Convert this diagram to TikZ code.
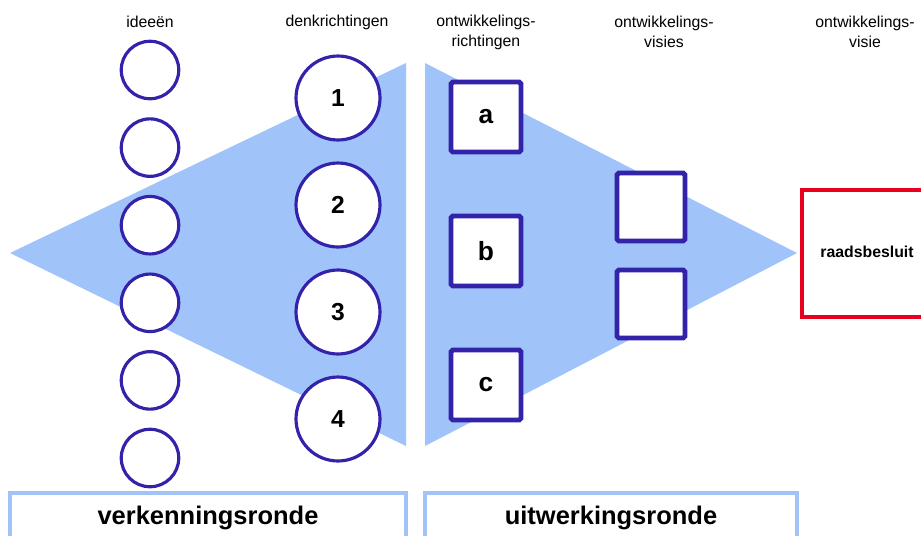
\documentclass[tikz,border=0pt]{standalone}
\usepackage{fontspec}
\setmainfont{Liberation Sans}
\definecolor{ringblue}{RGB}{51,34,170}
\definecolor{funnel}{RGB}{160,196,250}
\definecolor{besluitred}{RGB}{232,0,28}
\begin{document}
\begin{tikzpicture}[x=0.02cm,y=-0.02cm,
  kop/.style={align=center,font=\fontsize{9}{11.3}\selectfont},
  idee/.style={circle,draw=ringblue,line width=1.8pt,fill=white,minimum size=1.15cm,inner sep=0pt},
  denk/.style={circle,draw=ringblue,line width=1.8pt,fill=white,minimum size=1.68cm,inner sep=0pt,font=\fontsize{14}{14}\selectfont\bfseries},
  vak/.style={draw=ringblue,line width=2.8pt,rounded corners=1pt,fill=white,minimum size=1.4cm,inner sep=0pt,font=\fontsize{15}{15}\selectfont\bfseries},
  ronde/.style={font=\fontsize{14.5}{14.5}\selectfont\bfseries}]
\clip (0,0) rectangle (921,535);
% trechters
\fill[funnel] (10,253) -- (406,63) -- (406,446) -- cycle;
\fill[funnel] (425,63) -- (797,253) -- (425,446) -- cycle;

% koppen
\node[kop] (hIdee) at (150,22) {ideeën};
\node[kop] (hDenk) at (337,22) {denkrichtingen};
\node[kop] (hRicht) at (486,32) {ontwikkelings-\\richtingen};
\node[kop] (hVisies) at (664,32) {ontwikkelings-\\visies};
\node[kop] (hVisie) at (865,32) {ontwikkelings-\\visie};

% ideeen en denkrichtingen
\foreach \i in {0,...,5}
  \node[idee] (idee\i) at (150,{70+77.6*\i}) {};
\foreach \n in {1,...,4}
  \node[denk] (denk\n) at (338,{98+107*(\n-1)}) {\n};

% ontwikkelingsrichtingen en -visies
\node[vak] (richtA) at (486,117) {a};
\node[vak] (richtB) at (486,251) {b};
\node[vak] (richtC) at (486,385) {c};
\node[vak,minimum size=1.36cm] (visie1) at (651,207) {};
\node[vak,minimum size=1.36cm] (visie2) at (651,304) {};

% raadsbesluit
\draw[besluitred,line width=2.4pt] (802,190) rectangle (960,317);
\node[font=\fontsize{9}{9}\selectfont\bfseries] (besluit) at (867,252) {raadsbesluit};

% rondes
\draw[funnel,line width=2.2pt] (10,560) |- (406,493) -- (406,560);
\draw[funnel,line width=2.2pt] (425,560) |- (797,493) -- (797,560);
\node[ronde] (verkenning) at (208,518) {verkenningsronde};
\node[ronde] (uitwerking) at (611,518) {uitwerkingsronde};
\end{tikzpicture}
\end{document}
